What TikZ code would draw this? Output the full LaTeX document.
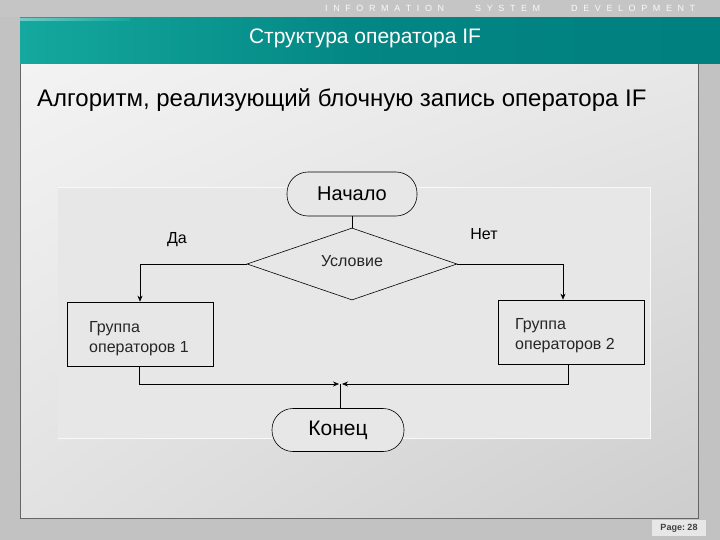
\documentclass[tikz,border=0pt]{standalone}
\usepackage{fontspec}
\setmainfont{Liberation Sans}
\usetikzlibrary{shapes.geometric,arrows.meta,calc,shadings}
\definecolor{bggray}{HTML}{C2C2C2}
\definecolor{tealL}{HTML}{14A89E}
\definecolor{tealR}{HTML}{00807F}
\definecolor{panelA}{HTML}{F3F3F3}
\definecolor{panelB}{HTML}{CDCDCD}
\definecolor{diagbg}{HTML}{E7E7E7}
\tikzset{
  term/.style={draw, line width=0.6pt, rounded corners=21pt, minimum width=130pt, minimum height=44pt, font=\fontsize{20}{24}\selectfont, inner sep=0pt},
  decis/.style={draw, line width=0.6pt, diamond, aspect=2.9, minimum width=210pt, minimum height=72pt, inner sep=0pt},
  procbox/.style={draw, line width=0.6pt, minimum width=146pt, minimum height=64pt, inner sep=0pt},
  lbl/.style={font=\fontsize{16}{19}\selectfont, inner sep=0pt},
  grp/.style={anchor=west, align=left, font=\fontsize{16}{20}\selectfont, inner sep=0pt, text=black!85},
  topw/.style={text=white!90!bggray, font=\fontsize{9}{10}\selectfont, inner sep=0pt, anchor=west},
  conn/.style={line width=0.6pt},
  arr/.style={line width=0.6pt, -{Stealth[length=6pt,width=5pt]}},
}
\begin{document}
\begin{tikzpicture}[x=1pt,y=-1pt]
\useasboundingbox (0,0) rectangle (720,540);
\fill[bggray] (0,0) rectangle (720,540);
% top strip
\fill[bggray!95!white] (0,0) rectangle (720,17);
\node[topw] (w1) at (325,8) {I\hspace{5.6pt}N\hspace{5.6pt}F\hspace{5.6pt}O\hspace{5.6pt}R\hspace{5.6pt}M\hspace{5.6pt}A\hspace{5.6pt}T\hspace{5.6pt}I\hspace{5.6pt}O\hspace{5.6pt}N};
\node[topw] (w2) at (475,8) {S\hspace{5.6pt}Y\hspace{5.6pt}S\hspace{5.6pt}T\hspace{5.6pt}E\hspace{5.6pt}M};
\node[topw] (w3) at (571,8) {D\hspace{5.6pt}E\hspace{5.6pt}V\hspace{5.6pt}E\hspace{5.6pt}L\hspace{5.6pt}O\hspace{5.6pt}P\hspace{5.6pt}M\hspace{5.6pt}E\hspace{5.6pt}N\hspace{5.6pt}T};
% panel
\shade[upper left=panelA, upper right=panelA!70!panelB, lower left=panelA!55!panelB, lower right=panelB] (20,64) rectangle (698,518);
\draw[black!60, line width=1pt] (20,64) -- (20,518) -- (698,518) -- (698,64);
% banner
\shade[left color=tealL, right color=tealR, middle color=tealR!85!tealL] (20,18) rectangle (720,64);
\shade[left color=tealL!60!white, right color=tealL] (20,19) rectangle (130,21);
\node[text=white, font=\fontsize{21}{24}\selectfont, inner sep=0pt] (title) at (365,38) {Структура оператора IF};
% subtitle
\node[anchor=west, font=\fontsize{24}{28}\selectfont, inner sep=0pt] (subtitle) at (37,100) {Алгоритм, реализующий блочную запись оператора IF};
% diagram background
\fill[diagbg] (58,188) rectangle (650,438);
\draw[white!70!diagbg, line width=1pt] (58,188) -- (650,188) -- (650,438) -- (58,438);
% nodes
\node[term, fill=diagbg] (start) at (352,194) {Начало};
\node[decis, fill=diagbg] (cond) at (352,264) {};
\node[font=\fontsize{16}{19}\selectfont, inner sep=0pt, text=black!85] (condtxt) at (352,261) {Условие};
\node[procbox, fill=diagbg] (g1) at (140,334) {};
\node[procbox, fill=diagbg] (g2) at (571,332) {};
\node[grp] (g1t) at (89,339) {Группа\\операторов 1};
\node[grp] (g2t) at (515,336) {Группа\\операторов 2};
\node[term, fill=diagbg, minimum width=132pt, minimum height=43pt, font=\fontsize{21}{24}\selectfont] (end) at (338,430) {Конец};
\node[lbl] (yes) at (177,240) {Да};
\node[lbl] (no) at (484,234) {Нет};
\coordinate (jn) at (340,384);
% connectors
\draw[conn] (start.south) -- (cond.north);
\draw[arr] (cond.west) -| (g1.north);
\draw[arr] (cond.east) -| ([xshift=-8pt]g2.north);
\draw[arr] ([xshift=-1pt]g1.south) |- ([xshift=-1pt]jn);
\draw[arr] ([xshift=-3pt]g2.south) |- ([xshift=2pt]jn);
\draw[conn] (jn) -- (jn |- end.north);
% page
\fill[white!60!bggray] (652,520) rectangle (706,536);
\node[font=\bfseries\fontsize{9}{10}\selectfont, text=black!75, inner sep=0pt] (page) at (679,528) {Page:\ 28};
\end{tikzpicture}
\end{document}
